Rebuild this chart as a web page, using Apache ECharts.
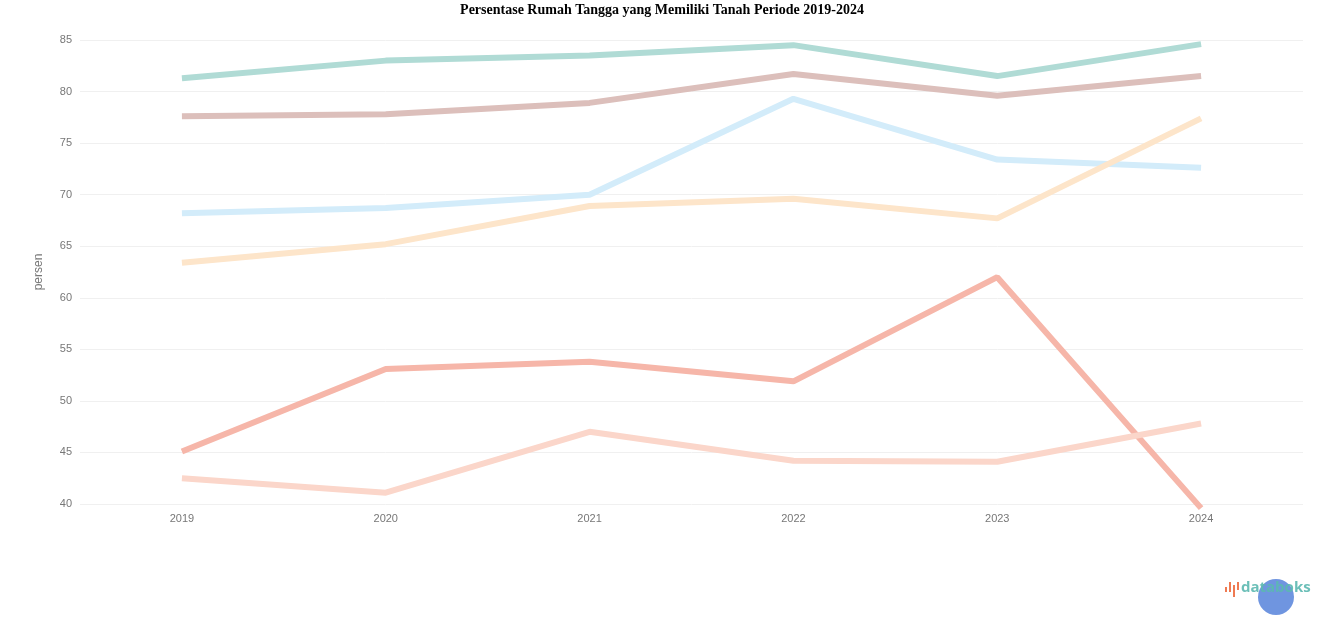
<!DOCTYPE html>
<html>
<head>
<meta charset="utf-8">
<script src="https://cdn.jsdelivr.net/npm/echarts@6/dist/echarts.min.js"></script>
<style>html,body{margin:0;padding:0;background:#fff}#c{width:1324px;height:617px}</style>
</head>
<body>
<div id="c"></div>
<script>
var years = ['2019','2020','2021','2022','2023','2024'];
var yTicks = {min: 40, max: 85, interval: 5};
var seriesTeal   = [81.3, 83.0, 83.5, 84.5, 81.5, 84.6];
var seriesRose   = [77.6, 77.8, 78.9, 81.7, 79.6, 81.5];
var seriesBlue   = [68.2, 68.7, 70.0, 79.3, 73.4, 72.6];
var seriesOrange = [63.4, 65.2, 68.9, 69.6, 67.7, 77.4];
var seriesRed    = [45.1, 53.1, 53.8, 51.9, 62.0, 39.6];
var seriesSalmon = [42.5, 41.1, 47.0, 44.2, 44.1, 47.8];
var names = ['A','B','C','D','E','F'];
var colors = ['#b0dbd5','#dcbfbb','#d3ecfa','#fde5ca','#f6b6a9','#fbd6ca'];
var allData = [seriesTeal, seriesRose, seriesBlue, seriesOrange, seriesRed, seriesSalmon];

var chart = echarts.init(document.getElementById('c'), null, {renderer:'canvas'});
chart.setOption({
  animation: false,
  title: {
    text: 'Persentase Rumah Tangga yang Memiliki Tanah Periode 2019-2024',
    left: 'center', top: -2,
    textStyle: {fontFamily: 'Liberation Serif', fontSize: 14, fontWeight: 'bold', color: '#000'}
  },
  grid: {left: 80, right: 21, top: 40, bottom: 113},
  xAxis: {
    type: 'category', data: years, boundaryGap: true,
    axisLine: {show: false}, axisTick: {show: false},
    axisLabel: {color: '#777', fontSize: 11, margin: 9}
  },
  yAxis: {
    type: 'value', min: yTicks.min, max: yTicks.max, interval: yTicks.interval,
    name: 'persen', nameLocation: 'middle', nameGap: 35,
    nameTextStyle: {color: '#777', fontSize: 12},
    axisLine: {show: false}, axisTick: {show: false},
    axisLabel: {color: '#777', fontSize: 11, margin: 8},
    splitLine: {lineStyle: {color: '#f0f0f0'}}
  },
  series: allData.map(function(d, i){
    return {
      name: names[i], type: 'line', data: d, showSymbol: false, clip: false,
      lineStyle: {width: 6, color: colors[i]}, itemStyle: {color: colors[i]}
    };
  }),
  graphic: [
    {type: 'circle', left: 1258, top: 579, shape: {r: 18}, style: {fill: '#6f95e0'}, z: 10},
    {type: 'text', left: 1241, top: 580, z: 11,
     style: {text: 'databoks', font: 'bold 15px "Open Sans"', fill: '#5bb8b0', opacity: 0.9}},
    {type: 'group', left: 1225, top: 582, z: 11, children: [
      {type: 'rect', shape: {x: 0, y: 5, width: 2, height: 5}, style: {fill: '#ef7a52'}},
      {type: 'rect', shape: {x: 4, y: 0, width: 2, height: 10}, style: {fill: '#ef7a52'}},
      {type: 'rect', shape: {x: 8, y: 3, width: 2, height: 12}, style: {fill: '#ef7a52'}},
      {type: 'rect', shape: {x: 12, y: 0, width: 2, height: 8}, style: {fill: '#ef7a52'}}
    ]}
  ]
});
</script>
</body>
</html>
